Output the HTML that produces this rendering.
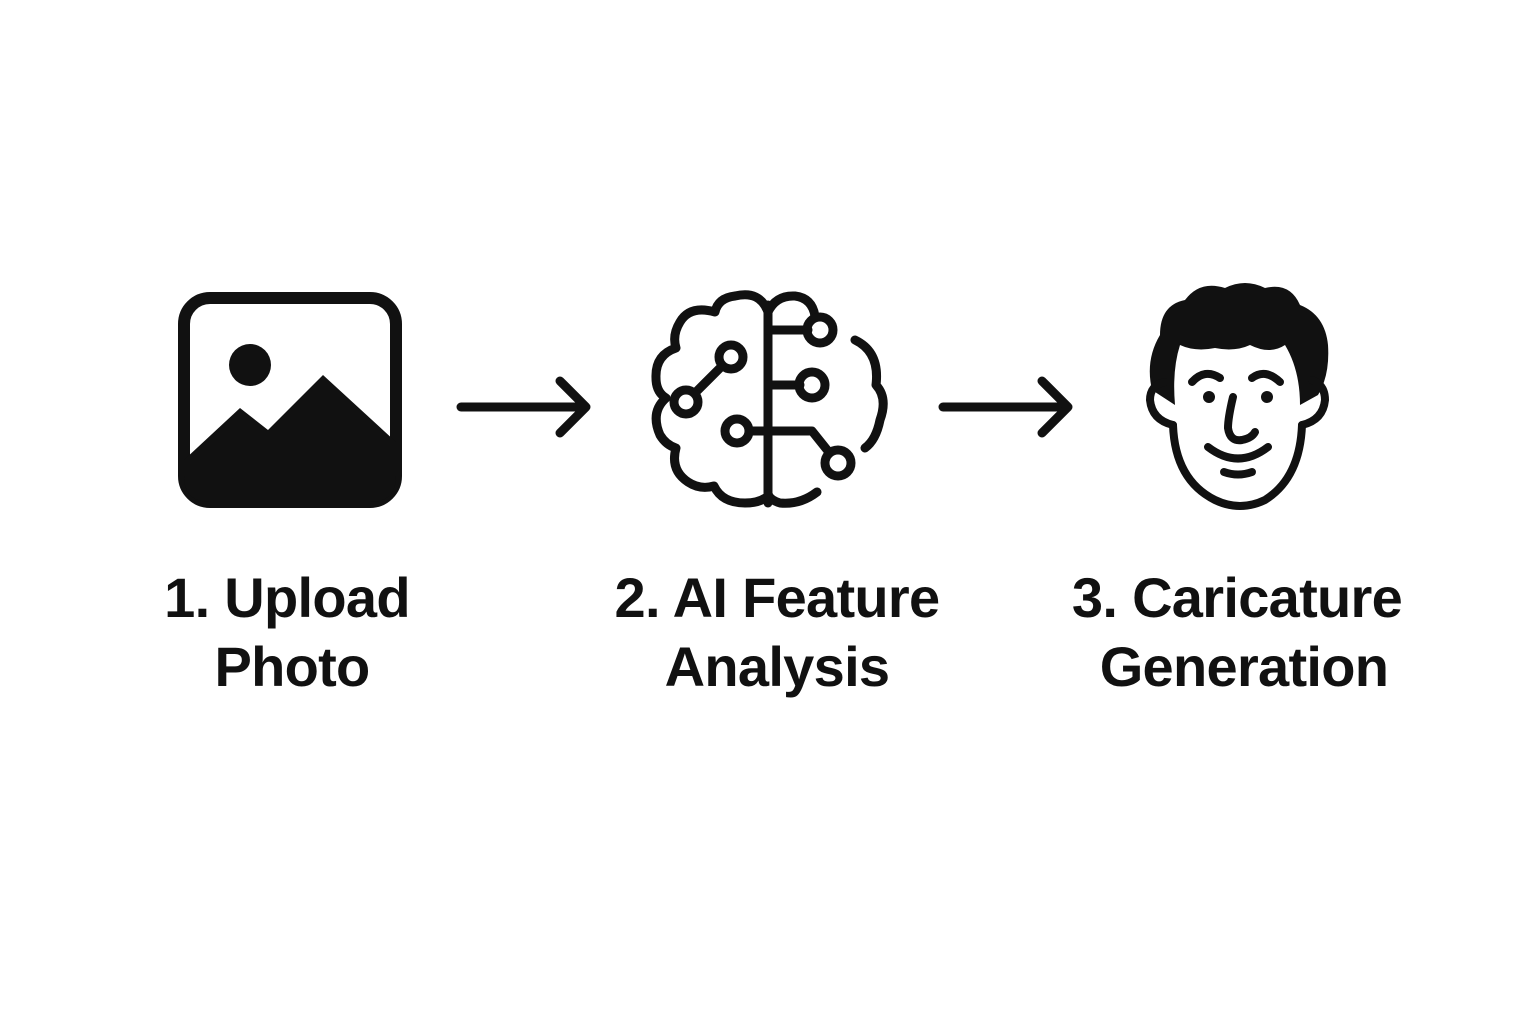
<!DOCTYPE html>
<html><head><meta charset="utf-8"><style>
html,body{margin:0;padding:0;background:#fff;}
svg{display:block}
text{font-family:"Liberation Sans",sans-serif;font-weight:bold;font-size:56px;letter-spacing:-0.7px;fill:#111;text-anchor:middle}
</style></head><body>
<svg width="1536" height="1024" viewBox="0 0 1536 1024">
<rect width="1536" height="1024" fill="#fff"/>
<rect x="184" y="298" width="212" height="204" rx="26" fill="none" stroke="#111" stroke-width="12"/>
<circle cx="250" cy="365" r="21" fill="#111"/>
<path d="M184 460 L240 408 L268 430 L323 375 L396 442 L396 476 Q396 502 370 502 L210 502 Q184 502 184 476 Z" fill="#111"/>
<g fill="none" stroke="#111" stroke-width="9" stroke-linecap="round" stroke-linejoin="round">
<line x1="461" y1="407" x2="584" y2="407"/><polyline points="560,381 586,407 560,433"/>
<line x1="943" y1="407" x2="1066" y2="407"/><polyline points="1042,381 1068,407 1042,433"/>
</g>
<g fill="none" stroke="#111" stroke-width="9" stroke-linecap="round" stroke-linejoin="round">
<line x1="768" y1="305" x2="768" y2="503"/>
<path d="M768 312 Q760 290 735 296 Q718 298 715 312 Q690 305 680 322 Q672 335 676 348 Q655 355 656 378 Q656 392 666 398 Q650 412 660 435 Q666 445 676 448 Q670 470 688 482 Q700 490 714 486 Q722 503 745 503 Q760 503 768 496"/>
<path d="M768 312 Q776 295 795 296 Q812 298 815 316"/>
<path d="M855 340 Q880 352 876 385 Q888 398 880 420 Q876 440 865 448"/>
<path d="M817 492 Q800 505 780 503 Q770 500 768 494"/>
<line x1="768" y1="330" x2="808" y2="330"/>
<line x1="768" y1="385" x2="800" y2="385"/>
<polyline points="749,431 812,431 828,451"/>
<line x1="695" y1="393" x2="722" y2="366"/>
<circle cx="820" cy="330" r="13"/>
<circle cx="812" cy="385" r="13"/>
<circle cx="838" cy="463" r="13"/>
<circle cx="731" cy="357" r="12"/>
<circle cx="686" cy="402" r="12"/>
<circle cx="737" cy="431" r="12"/>
</g>
<path d="M1152 390 Q1145 360 1160 335 Q1160 305 1185 300 Q1200 280 1225 288 Q1245 278 1265 288 Q1290 282 1300 305 Q1325 315 1328 345 Q1330 375 1318 395 L1300 405 Q1300 370 1285 345 Q1270 355 1250 345 Q1235 352 1215 348 Q1195 352 1180 345 Q1172 370 1175 405 Z" fill="#111"/>
<g fill="none" stroke="#111" stroke-width="8" stroke-linecap="round" stroke-linejoin="round">
<path d="M1173 425 Q1175 480 1215 500 Q1240 512 1265 500 Q1300 478 1302 425"/>
<path d="M1173 425 Q1152 420 1150 400 Q1150 385 1165 382"/>
<path d="M1302 425 Q1323 420 1325 400 Q1325 385 1312 380"/>
<path d="M1192 382 Q1205 368 1220 378"/>
<path d="M1252 378 Q1265 368 1280 382"/>
<path d="M1233 397 Q1228 418 1228 428 Q1230 442 1242 440 Q1252 438 1255 432"/>
<path d="M1208 447 Q1238 470 1268 447"/>
<path d="M1224 472 Q1238 477 1252 472"/>
</g>
<circle cx="1209" cy="397" r="6" fill="#111"/>
<circle cx="1267" cy="397" r="6" fill="#111"/>
<text x="287" y="617">1. Upload</text>
<text x="292" y="686">Photo</text>
<text x="777" y="617">2. AI Feature</text>
<text x="777" y="686">Analysis</text>
<text x="1237" y="617">3. Caricature</text>
<text x="1244" y="686">Generation</text>
</svg>
</body></html>
